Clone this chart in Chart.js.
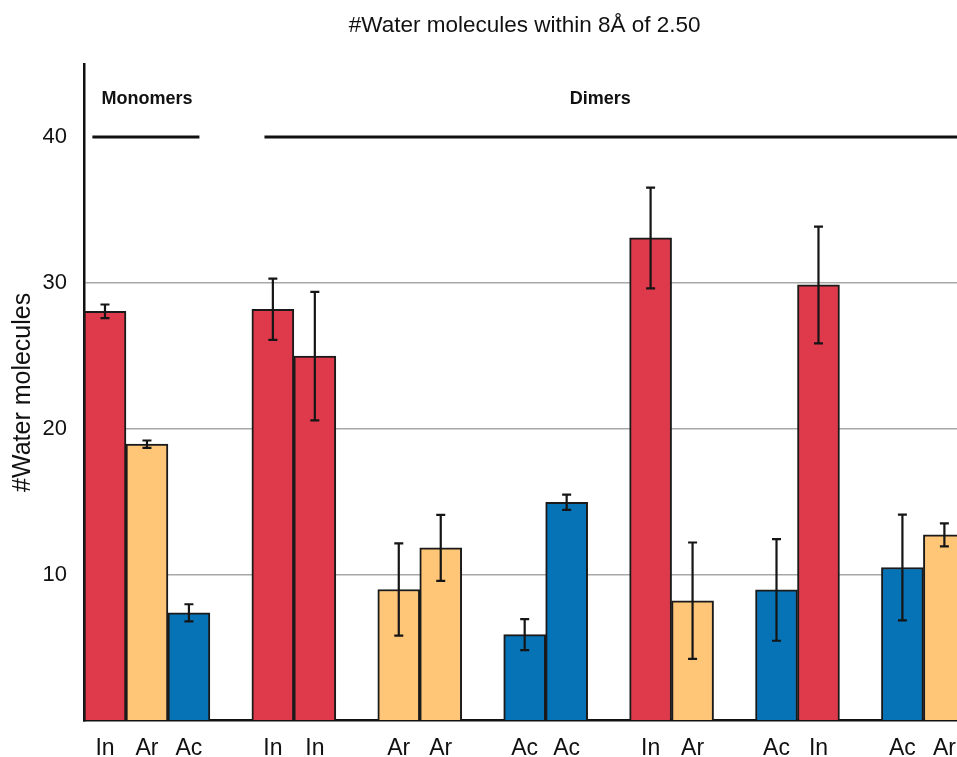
<!DOCTYPE html>
<html>
<head>
<meta charset="utf-8">
<script src="https://cdn.jsdelivr.net/npm/chart.js@4/dist/chart.umd.min.js"></script>
<style>
  html, body { margin: 0; padding: 0; background: #ffffff; overflow: hidden; }
  #wrap { width: 970px; height: 757px; }
</style>
</head>
<body>
<div id="wrap"><canvas id="c" width="970" height="757"></canvas></div>
<script>
// Residue type per bar slot; empty strings are spacer slots between groups
const categories = ['In', 'Ar', 'Ac', '', 'In', 'In', '', 'Ar', 'Ar', '', 'Ac', 'Ac', '', 'In', 'Ar', '', 'Ac', 'In', '', 'Ac', 'Ar'];
// Mean number of water molecules within 8 Å
const means = [28.05, 18.95, 7.39, null, 28.19, 24.98, null, 8.99, 11.84, null, 5.90, 14.97, null, 33.08, 8.22, null, 8.96, 29.86, null, 10.50, 12.73];
// Standard deviation shown as error bars
const errors = [0.47, 0.25, 0.59, null, 2.10, 4.40, null, 3.16, 2.26, null, 1.06, 0.52, null, 3.45, 3.99, null, 3.48, 4.00, null, 3.62, 0.79];
// Y axis tick values that carry a label
const yTicks = [10, 20, 30, 40];
// Group headers: name, label position (category index), bracket start/end (category index)
const groupNames = ['Monomers', 'Dimers'];
const groupLabelAt = [1.0, 11.8];
const groupLineFrom = [-0.3, 3.8];
const groupLineTo = [2.25, 20.5];
const groupLevel = 40;
const groupLabelLevel = 42.6;

const typeColors = { In: '#DE3A4B', Ar: '#FFC677', Ac: '#0673B6' };
const FONT = "'Liberation Sans', Arial, Helvetica, sans-serif";

const errorBarsPlugin = {
  id: 'errorBars',
  afterDatasetsDraw(chart) {
    const ctx = chart.ctx;
    const x = chart.scales.x, y = chart.scales.y;
    ctx.save();
    ctx.strokeStyle = '#151515';
    ctx.lineWidth = 2.2;
    means.forEach((m, i) => {
      if (m === null) return;
      const cx = x.getPixelForValue(i);
      const top = y.getPixelForValue(m + errors[i]);
      const bot = y.getPixelForValue(m - errors[i]);
      const cap = 4.5;
      ctx.beginPath();
      ctx.moveTo(cx, top); ctx.lineTo(cx, bot);
      ctx.moveTo(cx - cap, top); ctx.lineTo(cx + cap, top);
      ctx.moveTo(cx - cap, bot); ctx.lineTo(cx + cap, bot);
      ctx.stroke();
    });
    ctx.restore();
  }
};

const groupPlugin = {
  id: 'groupHeaders',
  afterDatasetsDraw(chart) {
    const ctx = chart.ctx;
    const x = chart.scales.x, y = chart.scales.y;
    const step = x.getPixelForValue(1) - x.getPixelForValue(0);
    const px = v => x.getPixelForValue(0) + v * step;
    ctx.save();
    ctx.strokeStyle = '#111111';
    ctx.lineWidth = 3;
    ctx.fillStyle = '#111111';
    ctx.font = "bold 18px " + FONT;
    ctx.textAlign = 'center';
    ctx.textBaseline = 'middle';
    groupNames.forEach((name, i) => {
      const ly = y.getPixelForValue(groupLevel);
      ctx.beginPath();
      ctx.moveTo(px(groupLineFrom[i]), ly);
      ctx.lineTo(px(groupLineTo[i]), ly);
      ctx.stroke();
      ctx.fillText(name, px(groupLabelAt[i]), y.getPixelForValue(groupLabelLevel));
    });
    ctx.restore();
  }
};

new Chart(document.getElementById('c'), {
  type: 'bar',
  data: {
    labels: categories,
    datasets: [{
      data: means,
      backgroundColor: categories.map(c => typeColors[c] || 'transparent'),
      borderColor: '#1a1a1a',
      borderWidth: 2,
      borderSkipped: 'start',
      barPercentage: 1,
      categoryPercentage: 1
    }]
  },
  options: {
    responsive: false,
    animation: false,
    devicePixelRatio: 1,
    layout: { padding: { left: 0, right: 4, top: 0, bottom: 0 } },
    plugins: {
      legend: { display: false },
      tooltip: { enabled: false },
      title: {
        display: true,
        text: '#Water molecules within 8Å of 2.50',
        color: '#111111',
        fullSize: false,
        font: { family: FONT, size: 22.5, weight: 'normal' },
        padding: { top: 12, bottom: 25 }
      }
    },
    scales: {
      x: {
        type: 'category',
        offset: true,
        grid: { display: false, drawTicks: false },
        border: { display: true, color: '#111111', width: 2.5 },
        ticks: {
          autoSkip: false, maxRotation: 0, minRotation: 0,
          color: '#111111',
          padding: 14,
          font: { family: FONT, size: 23 }
        },
        afterFit(scale) { scale.height = 36.3; }
      },
      y: {
        min: 0,
        max: 45,
        grid: {
          drawTicks: false,
          color: ctx => (ctx.tick && [10, 20, 30].includes(ctx.tick.value)) ? '#a8a8a8' : 'rgba(0,0,0,0)',
          lineWidth: 1.5
        },
        border: { display: true, color: '#111111', width: 2.5 },
        ticks: {
          stepSize: 10,
          color: '#111111',
          padding: 17,
          font: { family: FONT, size: 22 },
          callback: v => yTicks.includes(v) ? String(v) : ''
        },
        title: {
          display: true,
          text: '#Water molecules',
          color: '#111111',
          font: { family: FONT, size: 25 },
          padding: { top: 8, bottom: 0 }
        },
        afterFit(scale) { scale.width = 84; }
      }
    }
  },
  plugins: [errorBarsPlugin, groupPlugin]
});
</script>
</body>
</html>
